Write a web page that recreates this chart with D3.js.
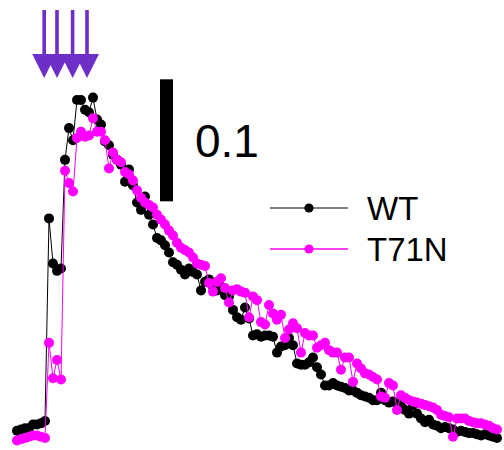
<!DOCTYPE html>
<html>
<head>
<meta charset="utf-8">
<script src="https://cdn.jsdelivr.net/npm/d3@7"></script>
<style>
  body { margin: 0; background: #fff; }
  svg { display: block; }
  .label { font-family: "Liberation Sans", Arial, sans-serif; fill: #000; }
</style>
</head>
<body>
<div id="chart"></div>
<script>
// normalised fluorescence, one sample per frame
var wt = [
  0.006, 0.007, 0.008, 0.008, 0.011, 0.011, 0.012, 0.014, 0.180, 0.143,
  0.137, 0.139, 0.228, 0.254, 0.244, 0.277, 0.277, 0.269, 0.267, 0.279,
  0.261, 0.257, 0.243, 0.240, 0.232, 0.228, 0.224, 0.210, 0.220, 0.207,
  0.193, 0.187, 0.198, 0.183, 0.175, 0.164, 0.162, 0.158, 0.152, 0.144,
  0.142, 0.138, 0.134, 0.139, 0.136, 0.134, 0.121, 0.128, 0.130, 0.124,
  0.121, 0.124, 0.117, 0.116, 0.105, 0.099, 0.097, 0.107, 0.098, 0.084,
  0.085, 0.083, 0.084, 0.084, 0.083, 0.070, 0.075, 0.076, 0.082, 0.076,
  0.061, 0.060, 0.060, 0.062, 0.066, 0.058, 0.052, 0.043, 0.043, 0.045,
  0.043, 0.042, 0.041, 0.039, 0.039, 0.037, 0.035, 0.034, 0.033, 0.031,
  0.031, 0.037, 0.031, 0.029, 0.030, 0.028, 0.026, 0.023, 0.020, 0.027,
  0.020, 0.016, 0.013, 0.015, 0.011, 0.010, 0.008, 0.009, 0.008, 0.007,
  0.005, 0.006, 0.005, 0.004, 0.004, 0.003, 0.002, 0.003, 0.002, 0.001, 0.000
];

var t71n = [
  -0.002, -0.001, 0.000, 0.001, 0.002, 0.002, 0.001, 0.000, 0.078, 0.049,
  0.064, 0.048, 0.219, 0.209, 0.202, 0.246, 0.251, 0.247, 0.248, 0.262,
  0.251, 0.251, 0.244, 0.221, 0.234, 0.228, 0.226, 0.218, 0.216, 0.211,
  0.203, 0.197, 0.193, 0.191, 0.189, 0.183, 0.179, 0.175, 0.170, 0.166,
  0.160, 0.156, 0.154, 0.152, 0.148, 0.143, 0.142, 0.141, 0.127, 0.120,
  0.128, 0.131, 0.123, 0.111, 0.121, 0.122, 0.120, 0.119, 0.099, 0.116,
  0.113, 0.095, 0.093, 0.109, 0.102, 0.097, 0.101, 0.082, 0.089, 0.094,
  0.090, 0.070, 0.086, 0.084, 0.084, 0.074, 0.076, 0.078, 0.072, 0.070,
  0.070, 0.056, 0.066, 0.066, 0.046, 0.061, 0.057, 0.053, 0.052, 0.050,
  0.048, 0.034, 0.033, 0.045, 0.043, 0.023, 0.035, 0.033, 0.031, 0.030,
  0.029, 0.028, 0.027, 0.026, 0.025, 0.023, 0.019, 0.018, 0.017, 0.001,
  0.016, 0.016, 0.016, 0.014, 0.013, 0.012, 0.012, 0.011, 0.010, 0.008, 0.007
];

var seriesNames = ["WT", "T71N"];
var seriesColors = ["#000000", "#ff00ff"];
var stimFrames = [6.8, 10.0, 13.9, 17.5];   // stimulus arrows
var scaleBarValue = 0.1;
var scaleBarLabel = "0.1";

var width = 504, height = 450;

var svg = d3.select("#chart").append("svg")
    .attr("width", width)
    .attr("height", height);

var x = d3.scaleLinear()
    .domain([0, wt.length - 1])
    .range([17, 497]);

var y = d3.scaleLinear()
    .domain([0, 0.1])
    .range([438, 316]);

var line = d3.line()
    .x(function(d, i) { return x(i); })
    .y(function(d) { return y(d); });

// stimulus arrows
var arrowColor = "#6e2ec8";
var arrows = svg.append("g").attr("fill", arrowColor);
stimFrames.forEach(function(f) {
  var cx = x(f);
  arrows.append("rect")
      .attr("x", cx - 1.8)
      .attr("y", 10)
      .attr("width", 3.6)
      .attr("height", 46);
  arrows.append("path")
      .attr("d", "M" + (cx - 12) + ",54 L" + (cx + 12) + ",54 L" + cx + ",78 Z");
});

// traces
[wt, t71n].forEach(function(data, k) {
  var g = svg.append("g");
  g.append("path")
      .datum(data)
      .attr("fill", "none")
      .attr("stroke", seriesColors[k])
      .attr("stroke-width", 1)
      .attr("d", line);
  g.selectAll("circle")
      .data(data)
      .enter().append("circle")
      .attr("cx", function(d, i) { return x(i); })
      .attr("cy", function(d) { return y(d); })
      .attr("r", 5)
      .attr("fill", seriesColors[k]);
});

// scale bar
var barBase = 0.194;
svg.append("rect")
    .attr("x", x(35.75))
    .attr("y", y(barBase + scaleBarValue))
    .attr("width", 13)
    .attr("height", y(barBase) - y(barBase + scaleBarValue))
    .attr("fill", "#000");

svg.append("text")
    .attr("class", "label")
    .attr("x", 195)
    .attr("y", 157)
    .style("font-size", "46px")
    .text(scaleBarLabel);

// legend
var legend = svg.selectAll(".legend")
    .data(seriesNames)
    .enter().append("g")
    .attr("class", "legend")
    .attr("transform", function(d, i) { return "translate(270," + (208 + i * 41) + ")"; });

legend.append("line")
    .attr("x1", 0).attr("x2", 78)
    .attr("stroke", function(d, i) { return i === 0 ? "#555" : seriesColors[i]; })
    .attr("stroke-width", 1.5);

legend.append("circle")
    .attr("cx", 39)
    .attr("r", 4.6)
    .attr("fill", function(d, i) { return seriesColors[i]; });

legend.append("text")
    .attr("class", "label")
    .attr("x", 97)
    .attr("y", 12)
    .style("font-size", "33px")
    .text(function(d) { return d; });
</script>
</body>
</html>
